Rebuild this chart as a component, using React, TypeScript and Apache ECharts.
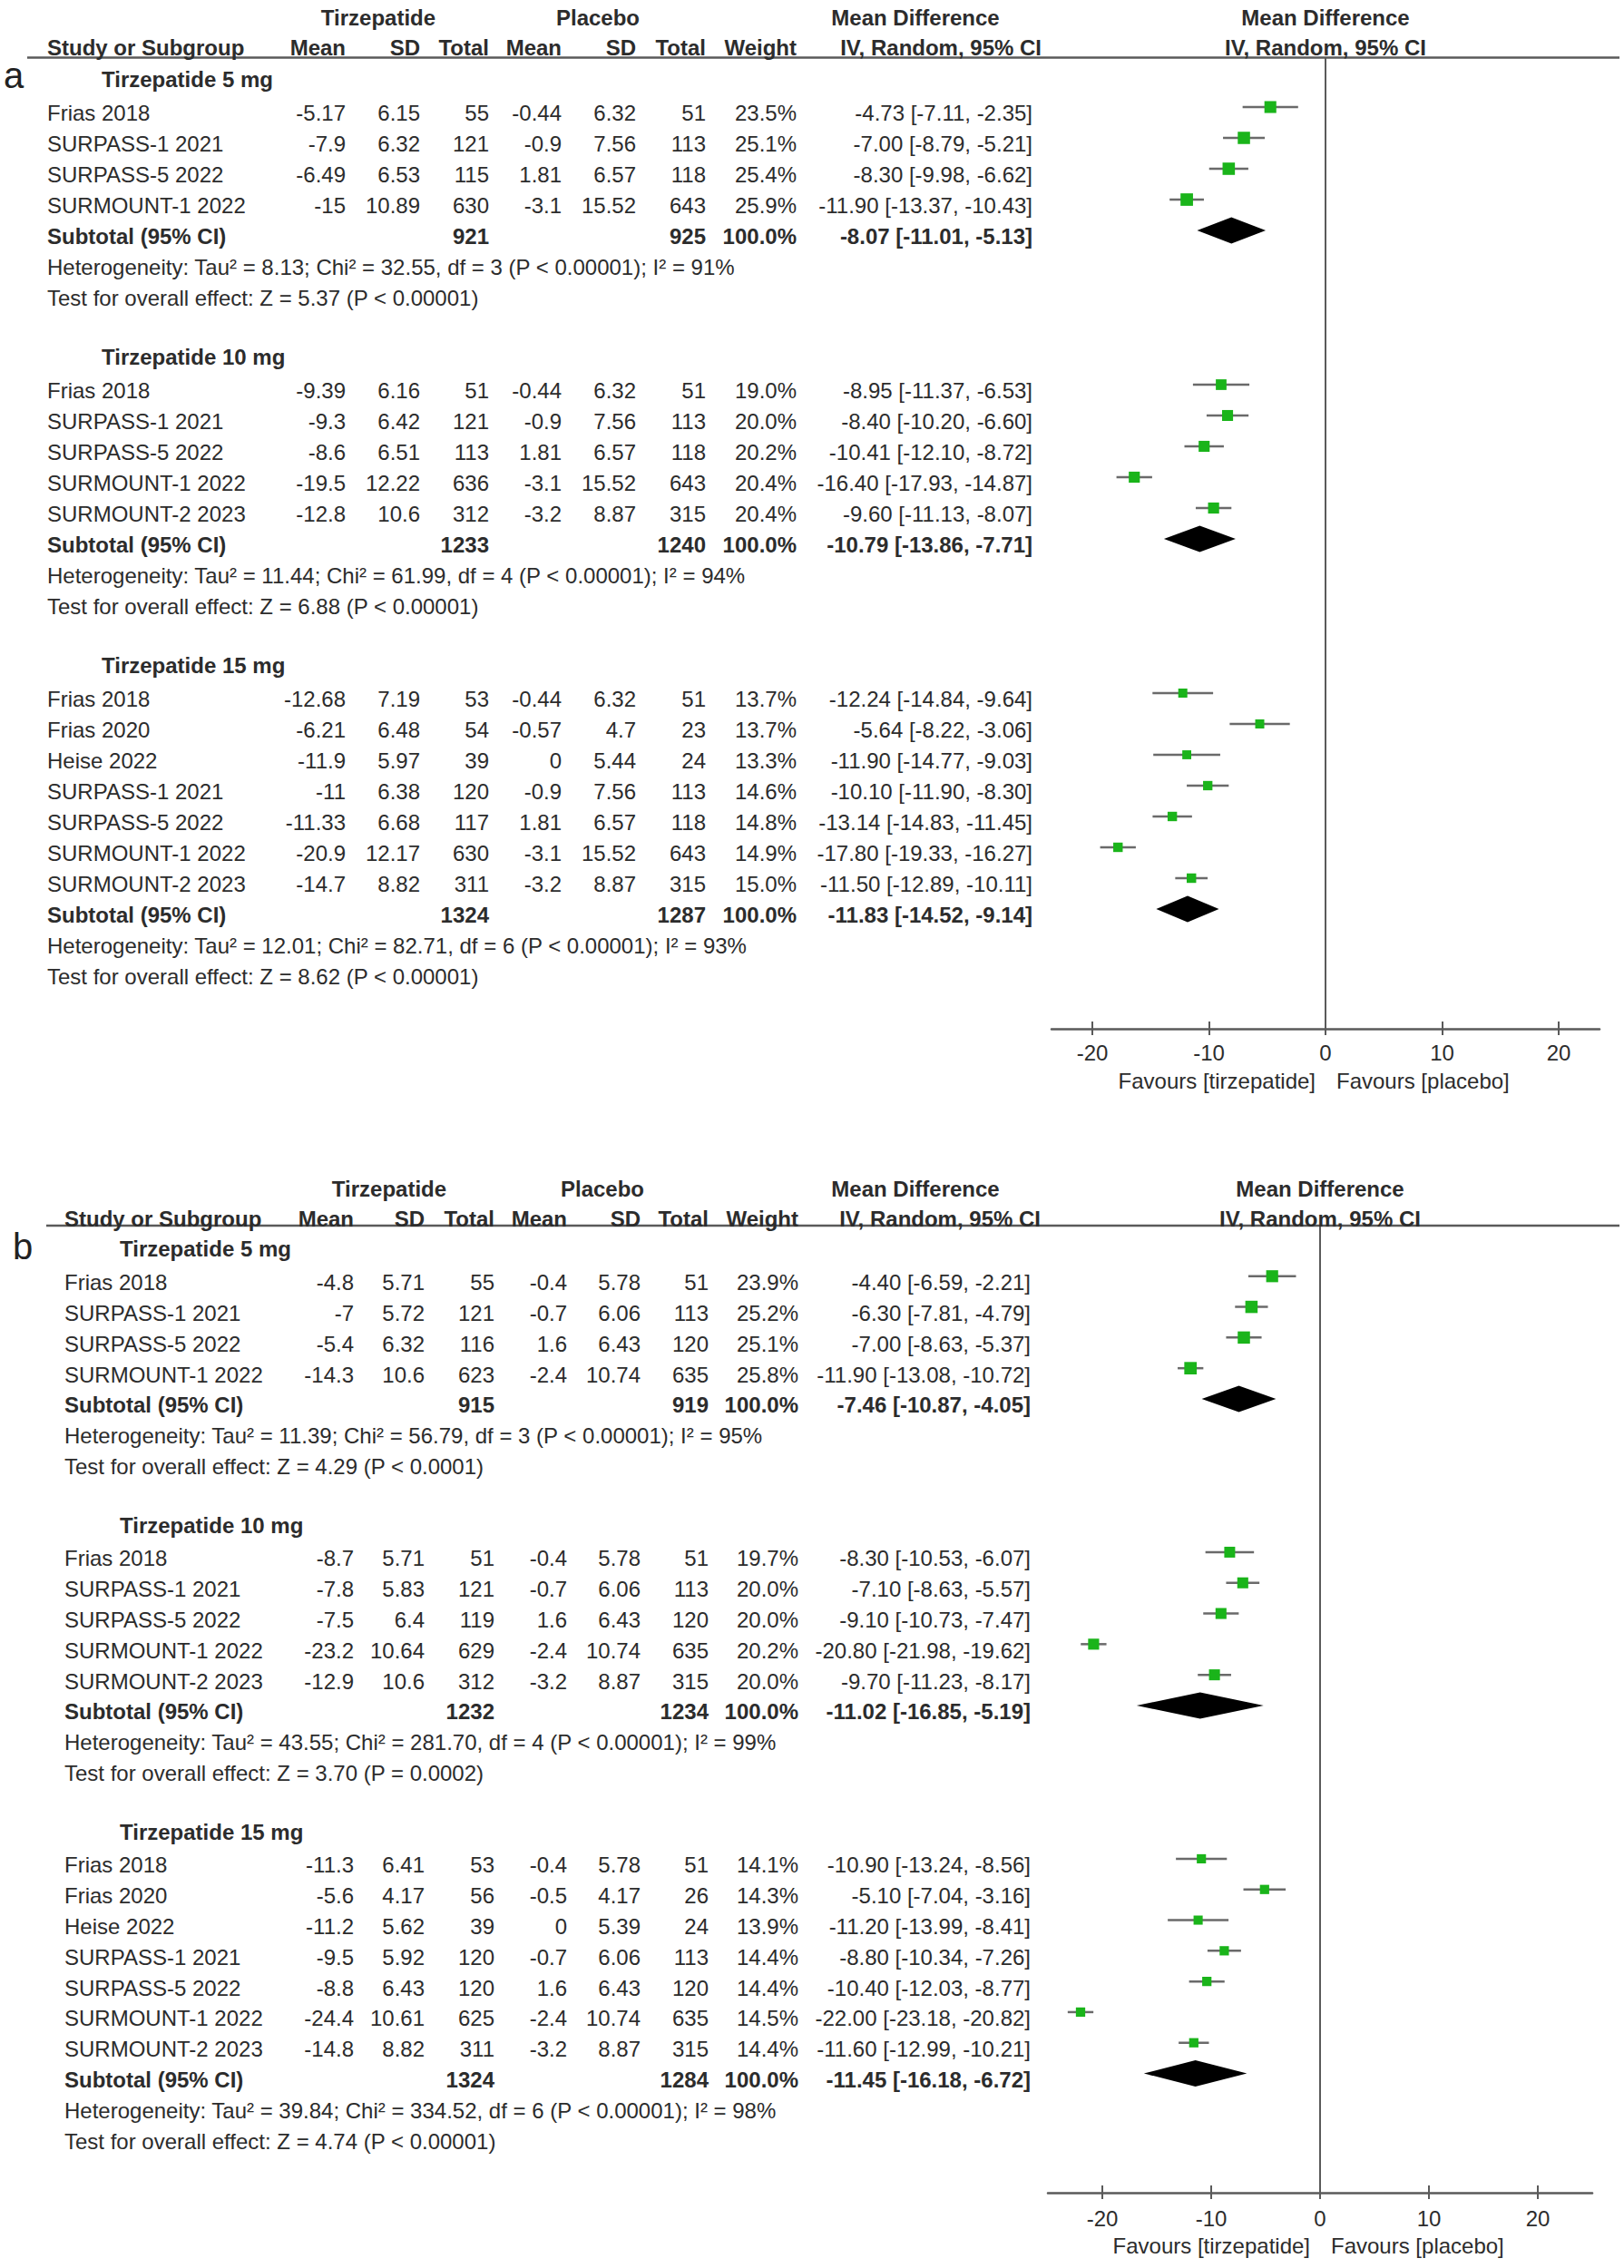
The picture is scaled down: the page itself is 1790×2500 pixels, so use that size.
import React, { useEffect, useRef } from "react";
import * as echarts from "echarts";

type Row = [string, number, number, number, number, number, number, number, number, number, number];
// [study, tirzMean, tirzSD, tirzTotal, placMean, placSD, placTotal, weight%, MD, lo, hi]

const SUBGROUPS = ["Tirzepatide 5 mg", "Tirzepatide 10 mg", "Tirzepatide 15 mg"];
const GROUP_HEADERS = ["Tirzepatide", "Placebo", "Mean Difference"];
const COLUMN_HEADERS = ["Study or Subgroup", "Mean", "SD", "Total", "Mean", "SD", "Total", "Weight", "IV, Random, 95% CI"];
const SUBTOTAL_LABEL = "Subtotal (95% CI)";
const AXIS_TICKS = [-20, -10, 0, 10, 20];
const FAVOURS = ["Favours [tirzepatide]", "Favours [placebo]"];
const PANEL_LETTERS = ["a", "b"];

// ---------- Panel a ----------
const A_5MG: Row[] = [
  ["Frias 2018", -5.17, 6.15, 55, -0.44, 6.32, 51, 23.5, -4.73, -7.11, -2.35],
  ["SURPASS-1 2021", -7.9, 6.32, 121, -0.9, 7.56, 113, 25.1, -7.0, -8.79, -5.21],
  ["SURPASS-5 2022", -6.49, 6.53, 115, 1.81, 6.57, 118, 25.4, -8.3, -9.98, -6.62],
  ["SURMOUNT-1 2022", -15, 10.89, 630, -3.1, 15.52, 643, 25.9, -11.9, -13.37, -10.43],
];
const A_5MG_TOTAL = [921, 925, 100, -8.07, -11.01, -5.13];
const A_5MG_HET = "Heterogeneity: Tau² = 8.13; Chi² = 32.55, df = 3 (P < 0.00001); I² = 91%";
const A_5MG_TEST = "Test for overall effect: Z = 5.37 (P < 0.00001)";

const A_10MG: Row[] = [
  ["Frias 2018", -9.39, 6.16, 51, -0.44, 6.32, 51, 19.0, -8.95, -11.37, -6.53],
  ["SURPASS-1 2021", -9.3, 6.42, 121, -0.9, 7.56, 113, 20.0, -8.4, -10.2, -6.6],
  ["SURPASS-5 2022", -8.6, 6.51, 113, 1.81, 6.57, 118, 20.2, -10.41, -12.1, -8.72],
  ["SURMOUNT-1 2022", -19.5, 12.22, 636, -3.1, 15.52, 643, 20.4, -16.4, -17.93, -14.87],
  ["SURMOUNT-2 2023", -12.8, 10.6, 312, -3.2, 8.87, 315, 20.4, -9.6, -11.13, -8.07],
];
const A_10MG_TOTAL = [1233, 1240, 100, -10.79, -13.86, -7.71];
const A_10MG_HET = "Heterogeneity: Tau² = 11.44; Chi² = 61.99, df = 4 (P < 0.00001); I² = 94%";
const A_10MG_TEST = "Test for overall effect: Z = 6.88 (P < 0.00001)";

const A_15MG: Row[] = [
  ["Frias 2018", -12.68, 7.19, 53, -0.44, 6.32, 51, 13.7, -12.24, -14.84, -9.64],
  ["Frias 2020", -6.21, 6.48, 54, -0.57, 4.7, 23, 13.7, -5.64, -8.22, -3.06],
  ["Heise 2022", -11.9, 5.97, 39, 0, 5.44, 24, 13.3, -11.9, -14.77, -9.03],
  ["SURPASS-1 2021", -11, 6.38, 120, -0.9, 7.56, 113, 14.6, -10.1, -11.9, -8.3],
  ["SURPASS-5 2022", -11.33, 6.68, 117, 1.81, 6.57, 118, 14.8, -13.14, -14.83, -11.45],
  ["SURMOUNT-1 2022", -20.9, 12.17, 630, -3.1, 15.52, 643, 14.9, -17.8, -19.33, -16.27],
  ["SURMOUNT-2 2023", -14.7, 8.82, 311, -3.2, 8.87, 315, 15.0, -11.5, -12.89, -10.11],
];
const A_15MG_TOTAL = [1324, 1287, 100, -11.83, -14.52, -9.14];
const A_15MG_HET = "Heterogeneity: Tau² = 12.01; Chi² = 82.71, df = 6 (P < 0.00001); I² = 93%";
const A_15MG_TEST = "Test for overall effect: Z = 8.62 (P < 0.00001)";

// ---------- Panel b ----------
const B_5MG: Row[] = [
  ["Frias 2018", -4.8, 5.71, 55, -0.4, 5.78, 51, 23.9, -4.4, -6.59, -2.21],
  ["SURPASS-1 2021", -7, 5.72, 121, -0.7, 6.06, 113, 25.2, -6.3, -7.81, -4.79],
  ["SURPASS-5 2022", -5.4, 6.32, 116, 1.6, 6.43, 120, 25.1, -7.0, -8.63, -5.37],
  ["SURMOUNT-1 2022", -14.3, 10.6, 623, -2.4, 10.74, 635, 25.8, -11.9, -13.08, -10.72],
];
const B_5MG_TOTAL = [915, 919, 100, -7.46, -10.87, -4.05];
const B_5MG_HET = "Heterogeneity: Tau² = 11.39; Chi² = 56.79, df = 3 (P < 0.00001); I² = 95%";
const B_5MG_TEST = "Test for overall effect: Z = 4.29 (P < 0.0001)";

const B_10MG: Row[] = [
  ["Frias 2018", -8.7, 5.71, 51, -0.4, 5.78, 51, 19.7, -8.3, -10.53, -6.07],
  ["SURPASS-1 2021", -7.8, 5.83, 121, -0.7, 6.06, 113, 20.0, -7.1, -8.63, -5.57],
  ["SURPASS-5 2022", -7.5, 6.4, 119, 1.6, 6.43, 120, 20.0, -9.1, -10.73, -7.47],
  ["SURMOUNT-1 2022", -23.2, 10.64, 629, -2.4, 10.74, 635, 20.2, -20.8, -21.98, -19.62],
  ["SURMOUNT-2 2023", -12.9, 10.6, 312, -3.2, 8.87, 315, 20.0, -9.7, -11.23, -8.17],
];
const B_10MG_TOTAL = [1232, 1234, 100, -11.02, -16.85, -5.19];
const B_10MG_HET = "Heterogeneity: Tau² = 43.55; Chi² = 281.70, df = 4 (P < 0.00001); I² = 99%";
const B_10MG_TEST = "Test for overall effect: Z = 3.70 (P = 0.0002)";

const B_15MG: Row[] = [
  ["Frias 2018", -11.3, 6.41, 53, -0.4, 5.78, 51, 14.1, -10.9, -13.24, -8.56],
  ["Frias 2020", -5.6, 4.17, 56, -0.5, 4.17, 26, 14.3, -5.1, -7.04, -3.16],
  ["Heise 2022", -11.2, 5.62, 39, 0, 5.39, 24, 13.9, -11.2, -13.99, -8.41],
  ["SURPASS-1 2021", -9.5, 5.92, 120, -0.7, 6.06, 113, 14.4, -8.8, -10.34, -7.26],
  ["SURPASS-5 2022", -8.8, 6.43, 120, 1.6, 6.43, 120, 14.4, -10.4, -12.03, -8.77],
  ["SURMOUNT-1 2022", -24.4, 10.61, 625, -2.4, 10.74, 635, 14.5, -22.0, -23.18, -20.82],
  ["SURMOUNT-2 2023", -14.8, 8.82, 311, -3.2, 8.87, 315, 14.4, -11.6, -12.99, -10.21],
];
const B_15MG_TOTAL = [1324, 1284, 100, -11.45, -16.18, -6.72];
const B_15MG_HET = "Heterogeneity: Tau² = 39.84; Chi² = 334.52, df = 6 (P < 0.00001); I² = 98%";
const B_15MG_TEST = "Test for overall effect: Z = 4.74 (P < 0.00001)";

// ---------- layout / style ----------
const FONT = '"Liberation Sans", Arial, Helvetica, sans-serif';
const TEXT = "#2c2c2c";
const LINE = "#5a5a5a";
const GREEN = "#1ab41a";
const FS = 24;

const PANELS = [
  {
    groups: [
      { label: SUBGROUPS[0], rows: A_5MG, total: A_5MG_TOTAL, het: A_5MG_HET, test: A_5MG_TEST },
      { label: SUBGROUPS[1], rows: A_10MG, total: A_10MG_TOTAL, het: A_10MG_HET, test: A_10MG_TEST },
      { label: SUBGROUPS[2], rows: A_15MG, total: A_15MG_TOTAL, het: A_15MG_HET, test: A_15MG_TEST },
    ],
    grid: { left: 1159, top: 63.6, width: 604, height: 1070.3 },
    yMin: -0.6, yMax: 30.88, xMin: -23.5, xMax: 23.5,
    hdr1: -2.09, hdr2: -1.12,
    nameX: 52, subX: 112,
    cols: [381, 463, 539, 619, 701, 778, 878, 1138],
    tirzC: 417, placC: 659, mdC: 1009, ivR: 1148,
    lineX0: 30, letterX: 4, letterDy: 19, labelMargin: 15,
  },
  {
    groups: [
      { label: SUBGROUPS[0], rows: B_5MG, total: B_5MG_TOTAL, het: B_5MG_HET, test: B_5MG_TEST },
      { label: SUBGROUPS[1], rows: B_10MG, total: B_10MG_TOTAL, het: B_10MG_HET, test: B_10MG_TEST },
      { label: SUBGROUPS[2], rows: B_15MG, total: B_15MG_TOTAL, het: B_15MG_HET, test: B_15MG_TEST },
    ],
    grid: { left: 1155, top: 1351, width: 600, height: 1066 },
    yMin: -0.65, yMax: 30.89, xMin: -25, xMax: 25,
    hdr1: -2.07, hdr2: -1.09,
    nameX: 71, subX: 132,
    cols: [390, 468, 545, 625, 706, 781, 880, 1136],
    tirzC: 429, placC: 664, mdC: 1009, ivR: 1147,
    lineX0: 51, letterX: 14, letterDy: 23, labelMargin: 16,
  },
];

const fmtCI = (md: number, lo: number, hi: number) => `${md.toFixed(2)} [${lo.toFixed(2)}, ${hi.toFixed(2)}]`;

function buildItems(panel: any) {
  const items: any[] = [
    { kind: "hdr1", line: panel.hdr1 },
    { kind: "hdr2", line: panel.hdr2 },
  ];
  const studies: number[][] = [];
  const diamonds: number[][] = [];
  let base = 0;
  panel.groups.forEach((g: any) => {
    items.push({ kind: "sub", line: base, text: g.label });
    g.rows.forEach((r: Row, i: number) => {
      items.push({ kind: "study", line: base + 1 + i, row: r });
      studies.push([r[9], r[10], base + 1 + i, r[8], r[7]]);
    });
    const tl = base + g.rows.length + 1;
    items.push({ kind: "total", line: tl, total: g.total });
    diamonds.push([g.total[4], g.total[5], tl, g.total[3]]);
    items.push({ kind: "note", line: tl + 1, text: g.het });
    items.push({ kind: "note", line: tl + 2, text: g.test });
    base = tl + 4;
  });
  return { items, studies, diamonds };
}

function txt(text: string, x: number, y: number, align: string, bold = false, size = FS) {
  return {
    type: "text",
    silent: true,
    style: {
      text, x, y, align, verticalAlign: "middle",
      fontSize: size, fontFamily: FONT, fontWeight: bold ? "bold" : "normal", fill: TEXT,
    },
  };
}

export default function App() {
  const ref = useRef<HTMLDivElement>(null);
  useEffect(() => {
    document.body.style.margin = "0";
    if (!ref.current) return;
    const chart = echarts.init(ref.current, undefined, { renderer: "svg" });

    const grids: any[] = [];
    const xAxes: any[] = [];
    const yAxes: any[] = [];
    const series: any[] = [];

    PANELS.forEach((p, pi) => {
      const { items, studies, diamonds } = buildItems(p);
      grids.push({ ...p.grid, containLabel: false, outerBoundsMode: "none" });
      xAxes.push({
        gridIndex: pi, type: "value", min: p.xMin, max: p.xMax, position: "bottom",
        splitLine: { show: false },
        axisLine: { show: true, onZero: false, lineStyle: { color: LINE, width: 2.5 } },
        axisTick: { show: true, customValues: AXIS_TICKS, length: 7, inside: false, lineStyle: { color: LINE, width: 2 } },
        axisLabel: { show: true, customValues: AXIS_TICKS, margin: p.labelMargin, fontSize: FS, color: TEXT, fontFamily: FONT },
      });
      xAxes.push({
        gridIndex: pi, type: "value", min: p.xMin, max: p.xMax, position: "bottom",
        splitLine: { show: false },
        axisLine: { show: false, onZero: false },
        axisTick: { show: true, customValues: AXIS_TICKS, length: 8, inside: true, lineStyle: { color: LINE, width: 2 } },
        axisLabel: { show: false },
      });
      yAxes.push({
        gridIndex: pi, type: "value", inverse: true, min: p.yMin, max: p.yMax, show: false,
        splitLine: { show: false },
      });
      const xi = pi * 2;

      // zero line
      series.push({
        type: "custom", xAxisIndex: xi, yAxisIndex: pi, silent: true, clip: false,
        data: [[0, p.yMin, p.yMax]],
        encode: { x: 0, y: [1, 2] },
        renderItem: (params: any, api: any) => {
          const a = api.coord([api.value(0), api.value(1)]);
          const b = api.coord([api.value(0), api.value(2)]);
          return { type: "line", shape: { x1: a[0], y1: a[1], x2: b[0], y2: b[1] }, style: { stroke: LINE, lineWidth: 2 } };
        },
      });

      // study CIs + squares
      series.push({
        type: "custom", xAxisIndex: xi, yAxisIndex: pi, silent: true, clip: false,
        data: studies,
        encode: { x: [0, 1, 3], y: 2 },
        renderItem: (params: any, api: any) => {
          const lo = api.value(0), hi = api.value(1), ln = api.value(2), est = api.value(3), w = api.value(4);
          const a = api.coord([lo, ln]);
          const b = api.coord([hi, ln]);
          const c = api.coord([est, ln]);
          const s = 2.7 * Math.sqrt(w);
          return {
            type: "group",
            children: [
              { type: "line", shape: { x1: a[0], y1: a[1], x2: b[0], y2: b[1] }, style: { stroke: "#6a6a6a", lineWidth: 2.5 } },
              { type: "rect", shape: { x: c[0] - s / 2, y: c[1] - s / 2, width: s, height: s }, style: { fill: GREEN } },
            ],
          };
        },
      });

      // subtotal diamonds
      series.push({
        type: "custom", xAxisIndex: xi, yAxisIndex: pi, silent: true, clip: false,
        data: diamonds,
        encode: { x: [0, 1, 3], y: 2 },
        renderItem: (params: any, api: any) => {
          const lo = api.value(0), hi = api.value(1), ln = api.value(2), est = api.value(3);
          const a = api.coord([lo, ln]);
          const b = api.coord([hi, ln]);
          const c = api.coord([est, ln]);
          const h = 14.5;
          return {
            type: "polygon",
            shape: { points: [[a[0], a[1]], [c[0], c[1] - h], [b[0], b[1]], [c[0], c[1] + h]] },
            style: { fill: "#000" },
          };
        },
      });

      // table text
      series.push({
        type: "custom", xAxisIndex: xi, yAxisIndex: pi, silent: true, clip: false,
        data: items.map((it) => [0, it.line]),
        encode: { x: 0, y: 1 },
        renderItem: (params: any, api: any) => {
          const it = items[params.dataIndex];
          const pt = api.coord([0, it.line]);
          const y = pt[1] + 7;
          const zx = pt[0];
          const ch: any[] = [];
          const C = p.cols;
          if (it.kind === "hdr1") {
            ch.push(txt(GROUP_HEADERS[0], p.tirzC, y, "center", true));
            ch.push(txt(GROUP_HEADERS[1], p.placC, y, "center", true));
            ch.push(txt(GROUP_HEADERS[2], p.mdC, y, "center", true));
            ch.push(txt(GROUP_HEADERS[2], zx, y, "center", true));
          } else if (it.kind === "hdr2") {
            ch.push(txt(COLUMN_HEADERS[0], p.nameX, y, "left", true));
            for (let k = 1; k <= 7; k++) ch.push(txt(COLUMN_HEADERS[k], C[k - 1], y, "right", true));
            ch.push(txt(COLUMN_HEADERS[8], p.ivR, y, "right", true));
            ch.push(txt(COLUMN_HEADERS[8], zx, y, "center", true));
          } else if (it.kind === "sub") {
            ch.push(txt(it.text, p.subX, y - 3, "left", true));
          } else if (it.kind === "study") {
            const r: Row = it.row;
            ch.push(txt(r[0], p.nameX, y, "left"));
            for (let k = 1; k <= 6; k++) ch.push(txt(String(r[k]), C[k - 1], y, "right"));
            ch.push(txt(`${r[7].toFixed(1)}%`, C[6], y, "right"));
            ch.push(txt(fmtCI(r[8], r[9], r[10]), C[7], y, "right"));
          } else if (it.kind === "total") {
            const t = it.total;
            ch.push(txt(SUBTOTAL_LABEL, p.nameX, y, "left", true));
            ch.push(txt(String(t[0]), C[2], y, "right", true));
            ch.push(txt(String(t[1]), C[5], y, "right", true));
            ch.push(txt(`${t[2].toFixed(1)}%`, C[6], y, "right", true));
            ch.push(txt(fmtCI(t[3], t[4], t[5]), C[7], y, "right", true));
          } else if (it.kind === "note") {
            ch.push(txt(it.text, p.nameX, y, "left"));
          }
          return { type: "group", children: ch };
        },
      });
    });

    chart.setOption({
      animation: false,
      backgroundColor: "#fff",
      grid: grids,
      xAxis: xAxes,
      yAxis: yAxes,
      series,
    });

    const graphics: any[] = [];
    PANELS.forEach((p, pi) => {
      const top = chart.convertToPixel({ xAxisIndex: pi * 2, yAxisIndex: pi } as any, [0, p.yMin]) as number[];
      const bot = chart.convertToPixel({ xAxisIndex: pi * 2, yAxisIndex: pi } as any, [0, p.yMax]) as number[];
      graphics.push({
        type: "line", silent: true,
        shape: { x1: p.lineX0, y1: top[1], x2: 1785, y2: top[1] },
        style: { stroke: LINE, lineWidth: 2.5 },
      });
      graphics.push({
        type: "text", silent: true,
        style: { text: PANEL_LETTERS[pi], x: p.letterX, y: top[1] + p.letterDy, verticalAlign: "middle", fontSize: 40, fontFamily: FONT, fill: "#222" },
      });
      graphics.push({
        type: "text", silent: true,
        style: { text: FAVOURS[0], x: bot[0] - 11, y: bot[1] + 58, align: "right", verticalAlign: "middle", fontSize: FS, fontFamily: FONT, fill: TEXT },
      });
      graphics.push({
        type: "text", silent: true,
        style: { text: FAVOURS[1], x: bot[0] + 12, y: bot[1] + 58, align: "left", verticalAlign: "middle", fontSize: FS, fontFamily: FONT, fill: TEXT },
      });
    });
    chart.setOption({ graphic: graphics });

    return () => chart.dispose();
  }, []);

  return <div ref={ref} style={{ width: 1790, height: 2500 }} />;
}
